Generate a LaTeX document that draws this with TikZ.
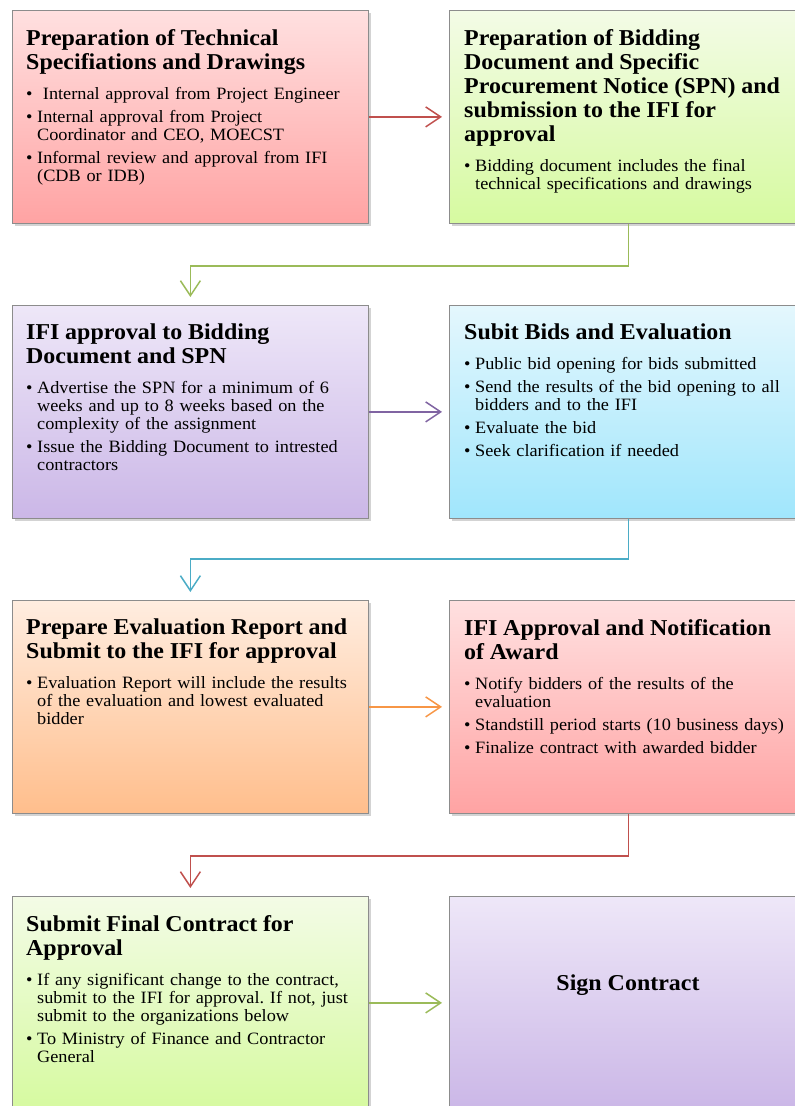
\documentclass[tikz,border=0pt]{standalone}
\usepackage{fontspec}
\setmainfont[FakeStretch=1.055]{Liberation Serif}
\usetikzlibrary{shadows,arrows.meta,calc}

% box fills (top / bottom of the gradient)
\definecolor{redT}{RGB}{255,224,224}
\definecolor{redB}{RGB}{255,163,163}
\definecolor{grnT}{RGB}{243,251,230}
\definecolor{grnB}{RGB}{214,250,160}
\definecolor{purT}{RGB}{238,231,248}
\definecolor{purB}{RGB}{203,183,231}
\definecolor{cyaT}{RGB}{228,247,253}
\definecolor{cyaB}{RGB}{160,230,252}
\definecolor{orgT}{RGB}{255,237,224}
\definecolor{orgB}{RGB}{255,190,140}
% connector colours
\definecolor{lnred}{RGB}{192,80,77}
\definecolor{lngrn}{RGB}{155,187,89}
\definecolor{lnpur}{RGB}{128,100,162}
\definecolor{lncya}{RGB}{75,172,198}
\definecolor{lnorg}{RGB}{247,150,70}

% line break that keeps the paragraph (and its hanging indent) going
\newcommand{\nl}{\hfil\break}
% bullet paragraph with hanging indent
\newcommand{\bitem}[1]{\par\hangindent=11pt\hangafter=1\noindent\makebox[11pt][l]{•}#1\par}
% bold heading of a step
\newcommand{\steptitle}[1]{{\fontsize{22.7}{24}\selectfont\bfseries\rule{0pt}{15pt}#1\par}\vspace{7pt}}

\tikzset{
  stepbox/.style={draw=black!45, line width=0.8pt, inner sep=0pt, anchor=north west,
    minimum width=356pt, minimum height=213pt,
    drop shadow={shadow xshift=2.5pt, shadow yshift=-3pt, opacity=0.35}},
  redbox/.style={stepbox, top color=redT, bottom color=redB},
  grnbox/.style={stepbox, top color=grnT, bottom color=grnB},
  purbox/.style={stepbox, top color=purT, bottom color=purB},
  cyabox/.style={stepbox, top color=cyaT, bottom color=cyaB},
  orgbox/.style={stepbox, top color=orgT, bottom color=orgB},
  wide/.style={minimum width=358pt},
  steptext/.style={anchor=north west, inner sep=0pt, text width=360pt, align=left,
    font=\fontsize{17.3}{18}\selectfont\frenchspacing},
  flow/.style={line width=1.5pt, -{Straight Barb[length=15pt,width=20pt,line width=1.5pt]}},
  hflow/.style={flow, shorten >=7pt},
  vflow/.style={flow, shorten >=8pt}
}

\begin{document}
\begin{tikzpicture}[x=1pt, y=-1pt]
\useasboundingbox (0,0) rectangle (795,1106);

% step boxes
\node[redbox] (b1) at (12,10) {};
\node[grnbox, wide] (b2) at (449,10) {};
\node[purbox] (b3) at (12,305) {};
\node[cyabox, wide] (b4) at (449,305) {};
\node[orgbox] (b5) at (12,600) {};
\node[redbox, wide] (b6) at (449,600) {};
\node[grnbox] (b7) at (12,896) {};
\node[purbox, wide] (b8) at (449,896) {};

% step texts
\node[steptext] (t1) at ($(b1.north west)+(14,19)$) {\setlength{\parskip}{5pt}%
  \steptitle{Preparation of Technical\nl Specifiations and Drawings}%
  \bitem{\ Internal approval from Project Engineer}%
  \bitem{Internal approval from Project\nl Coordinator and CEO, MOECST}%
  \bitem{Informal review and approval from IFI\nl (CDB or IDB)}};

\node[steptext] (t2) at ($(b2.north west)+(15,19)$) {\setlength{\parskip}{5pt}%
  \steptitle{Preparation of Bidding\nl Document and Specific\nl Procurement Notice (SPN) and\nl submission to the IFI for\nl approval}%
  \bitem{Bidding document includes the final\nl technical specifications and drawings}};

\node[steptext] (t3) at ($(b3.north west)+(14,19)$) {\setlength{\parskip}{5pt}%
  \steptitle{IFI approval to Bidding\nl Document and SPN}%
  \bitem{Advertise the SPN for a minimum of 6\nl weeks and up to 8 weeks based on the\nl complexity of the assignment}%
  \bitem{Issue the Bidding Document to intrested\nl contractors}};

\node[steptext] (t4) at ($(b4.north west)+(15,19)$) {\setlength{\parskip}{5pt}%
  \steptitle{Subit Bids and Evaluation}%
  \bitem{Public bid opening for bids submitted}%
  \bitem{Send the results of the bid opening to all\nl bidders and to the IFI}%
  \bitem{Evaluate the bid}%
  \bitem{Seek clarification if needed}};

\node[steptext] (t5) at ($(b5.north west)+(14,19)$) {\setlength{\parskip}{5pt}%
  \steptitle{Prepare Evaluation Report and\nl Submit to the IFI for approval}%
  \bitem{Evaluation Report will include the results\nl of the evaluation and lowest evaluated\nl bidder}};

\node[steptext] (t6) at ($(b6.north west)+(15,19)$) {\setlength{\parskip}{5pt}%
  \steptitle{IFI Approval and Notification\nl of Award}%
  \bitem{Notify bidders of the results of the\nl evaluation}%
  \bitem{Standstill period starts (10 business days)}%
  \bitem{Finalize contract with awarded bidder}};

\node[steptext] (t7) at ($(b7.north west)+(14,19)$) {\setlength{\parskip}{5pt}%
  \steptitle{Submit Final Contract for\nl Approval}%
  \bitem{If any significant change to the contract,\nl submit to the IFI for approval. If not, just\nl submit to the organizations below}%
  \bitem{To Ministry of Finance and Contractor\nl General}};

\node[font=\fontsize{22.7}{24}\selectfont\bfseries, inner sep=0pt] (t8) at (628,985) {Sign Contract};

% connectors
\draw[hflow, lnred] (b1.east) -- (b1.east -| b2.west);
\draw[vflow, lngrn] (b2.south) -- ++(0,42) -| (b3.north);
\draw[hflow, lnpur] (b3.east) -- (b3.east -| b4.west);
\draw[vflow, lncya] (b4.south) -- ++(0,40) -| (b5.north);
\draw[hflow, lnorg] (b5.east) -- (b5.east -| b6.west);
\draw[vflow, lnred] (b6.south) -- ++(0,42) -| (b7.north);
\draw[hflow, lngrn] (b7.east) -- (b7.east -| b8.west);
\end{tikzpicture}
\end{document}
